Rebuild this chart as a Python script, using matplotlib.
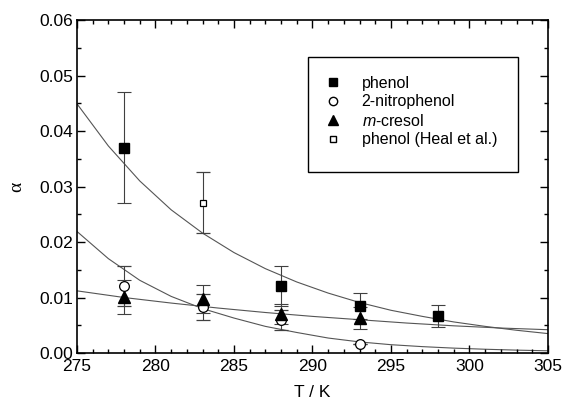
#!/usr/bin/env python3
"""Uptake coefficient alpha vs temperature for phenol, 2-nitrophenol, m-cresol."""

import matplotlib
matplotlib.use('Agg')
import matplotlib.pyplot as plt
from matplotlib.lines import Line2D
from matplotlib.patches import Rectangle
from matplotlib.ticker import MultipleLocator, FormatStrFormatter

plt.rcParams['font.family'] = ['Liberation Sans', 'DejaVu Sans']
plt.rcParams['mathtext.fontset'] = 'custom'
plt.rcParams['mathtext.rm'] = 'Liberation Sans'
plt.rcParams['mathtext.it'] = 'Liberation Sans:italic'

# measured points
phenol_T = [278, 288, 293, 298]
phenol_a = [0.0370, 0.0120, 0.0085, 0.0067]
phenol_err = [0.0100, 0.0036, 0.0023, 0.0020]

nitro_T = [278, 283, 288, 293]
nitro_a = [0.0121, 0.0083, 0.0059, 0.0016]
nitro_err = [0.0036, 0.0024, 0.0018, 0.0]

cresol_T = [278, 283, 288, 293]
cresol_a = [0.0101, 0.0097, 0.0071, 0.0063]
cresol_err = [0.0030, 0.0025, 0.0018, 0.0020]

heal_T = [283]
heal_a = [0.0271]
heal_err = [0.0055]

# fitted curves, values
phenol_fit_T = [275, 277, 279, 281, 283, 285, 287, 289, 291, 293, 295, 297,
                299, 301, 303, 305]
phenol_fit_a = [0.0449, 0.0373, 0.0310, 0.0258, 0.0216, 0.0181, 0.0152, 0.0128,
                0.0108, 0.0091, 0.0077, 0.0066, 0.0056, 0.0048, 0.0041, 0.0035]

nitro_fit_T = [275, 277, 279, 281, 283, 285, 287, 289, 291, 293, 295, 297,
               299, 301, 303, 305]
nitro_fit_a = [0.0219, 0.0170, 0.0131, 0.0102, 0.0080, 0.0063, 0.0048, 0.0037,
               0.0027, 0.0020, 0.0015, 0.00115, 0.00088, 0.00068, 0.00052, 0.0004]

cresol_fit_T = [275, 278, 281, 284, 287, 290, 293, 296, 299, 302, 305]
cresol_fit_a = [0.0112, 0.0100, 0.0090, 0.0081, 0.0073, 0.0066, 0.0060, 0.0054,
                0.0049, 0.0045, 0.0042]

legend_labels = ['phenol', '2-nitrophenol', '$m$-cresol', 'phenol (Heal et al.)']


def main():
    fig = plt.figure(figsize=(5.64, 4.04), dpi=100)
    ax = fig.add_axes([0.1365, 0.1262, 0.835, 0.8243])

    fit_kw = dict(color='#555555', lw=0.8, zorder=1)
    ax.plot(phenol_fit_T, phenol_fit_a, **fit_kw)
    ax.plot(nitro_fit_T, nitro_fit_a, **fit_kw)
    ax.plot(cresol_fit_T, cresol_fit_a, **fit_kw)

    eb_kw = dict(ls='none', ecolor='#404040', elinewidth=0.8, capsize=5,
                 capthick=0.8, zorder=2)
    ax.errorbar(phenol_T, phenol_a, yerr=phenol_err, marker='s', ms=7,
                mfc='black', mec='black', **eb_kw)
    ax.errorbar(nitro_T, nitro_a, yerr=nitro_err, marker='o', ms=7,
                mfc='white', mec='black', mew=0.9, **eb_kw)
    ax.errorbar(cresol_T, cresol_a, yerr=cresol_err, marker='^', ms=8,
                mfc='black', mec='black', **eb_kw)
    ax.errorbar(heal_T, heal_a, yerr=heal_err, marker='s', ms=5,
                mfc='white', mec='black', mew=0.9, **eb_kw)

    ax.set_xlim(275, 305)
    ax.set_ylim(0, 0.06)
    ax.xaxis.set_major_locator(MultipleLocator(5))
    ax.xaxis.set_minor_locator(MultipleLocator(1))
    ax.yaxis.set_major_locator(MultipleLocator(0.01))
    ax.yaxis.set_minor_locator(MultipleLocator(0.005))
    ax.yaxis.set_major_formatter(FormatStrFormatter('%.2f'))
    ax.tick_params(which='both', direction='in', top=True, right=True,
                   labelsize=12.5, width=1.0)
    ax.tick_params(which='major', length=6, pad=3)
    ax.tick_params(axis='x', which='major', pad=4)
    ax.tick_params(which='minor', length=3)
    for s in ax.spines.values():
        s.set_linewidth(1.2)

    ax.set_xlabel('T / K', fontsize=12.5, labelpad=8)
    ax.set_ylabel('\u03b1', fontsize=14, family=['Liberation Serif'], labelpad=10)

    # legend: frame drawn by hand so its size matches the original box
    ax.add_patch(Rectangle((0.4904, 0.5435), 0.4459, 0.3454, transform=ax.transAxes,
                           fill=True, facecolor='white', edgecolor='black',
                           lw=1.0, zorder=4))
    handles = [
        Line2D([], [], ls='none', marker='s', ms=6, mfc='black', mec='black'),
        Line2D([], [], ls='none', marker='o', ms=6, mfc='white', mec='black'),
        Line2D([], [], ls='none', marker='^', ms=7, mfc='black', mec='black'),
        Line2D([], [], ls='none', marker='s', ms=5, mfc='white', mec='black'),
    ]
    leg = ax.legend(handles, legend_labels, loc='upper left',
                    bbox_to_anchor=(0.5265, 0.832), fontsize=11.5, frameon=False,
                    handlelength=1.0, handletextpad=1.3, borderpad=0,
                    labelspacing=0.22, borderaxespad=0)
    leg.set_zorder(5)

    fig.savefig('out.png', dpi=100)
    plt.close(fig)


if __name__ == '__main__':
    main()
